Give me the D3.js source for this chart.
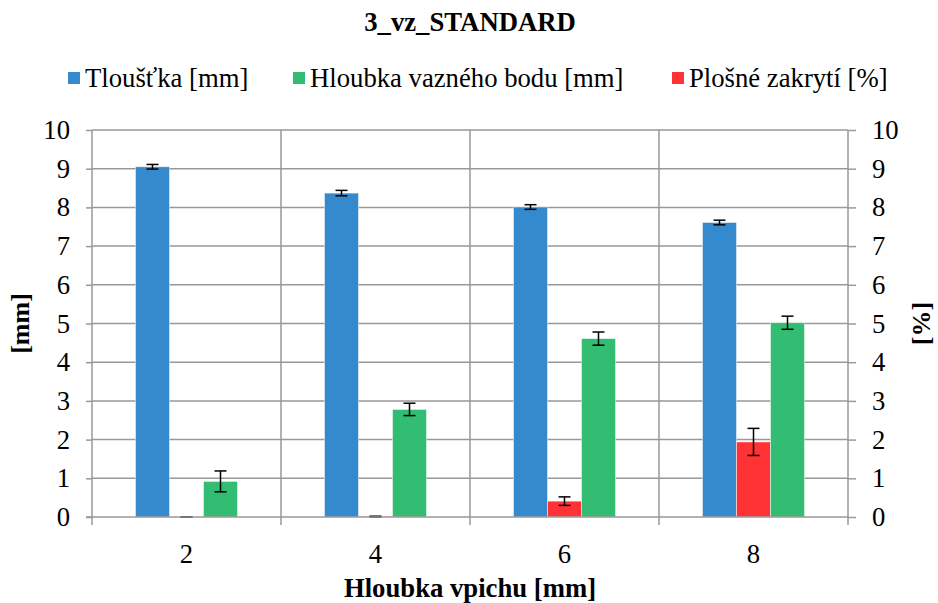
<!DOCTYPE html>
<html>
<head>
<meta charset="utf-8">
<script src="https://cdn.jsdelivr.net/npm/d3@7"></script>
<style>
  body { margin: 0; background: #fff; }
</style>
</head>
<body>
<script>
// data
var categories = ["2", "4", "6", "8"];
var seriesNames = ["Tloušťka [mm]", "Plošné zakrytí [%]", "Hloubka vazného bodu [mm]"];
var legendOrder = ["Tloušťka [mm]", "Hloubka vazného bodu [mm]", "Plošné zakrytí [%]"];
var tloustka = [9.05, 8.37, 8.01, 7.61];
var tloustkaErr = [0.06, 0.07, 0.06, 0.06];
var zakryti = [0.0, 0.01, 0.41, 1.94];
var zakrytiErr = [0.0, 0.01, 0.11, 0.35];
var hloubka = [0.92, 2.78, 4.61, 5.02];
var hloubkaErr = [0.27, 0.16, 0.17, 0.17];
var yTicks = [0, 1, 2, 3, 4, 5, 6, 7, 8, 9, 10];

var FONT = "'Liberation Serif', 'Times New Roman', Times, serif";
var FS = "26.7px";

var colors = {
  "Tloušťka [mm]": "#3589cd",
  "Hloubka vazného bodu [mm]": "#33bd73",
  "Plošné zakrytí [%]": "#ff3336"
};

var values = {
  "Tloušťka [mm]": tloustka,
  "Plošné zakrytí [%]": zakryti,
  "Hloubka vazného bodu [mm]": hloubka
};
var errors = {
  "Tloušťka [mm]": tloustkaErr,
  "Plošné zakrytí [%]": zakrytiErr,
  "Hloubka vazného bodu [mm]": hloubkaErr
};

var W = 938, H = 603;
var margin = {top: 130, right: 90, bottom: 86, left: 92},
    width = W - margin.left - margin.right,
    height = H - margin.top - margin.bottom;

var svg = d3.select("body").append("svg")
    .attr("width", W)
    .attr("height", H);

var g = svg.append("g")
    .attr("transform", "translate(" + margin.left + "," + margin.top + ")");

// scales
var x = d3.scaleBand()
    .domain(categories)
    .range([0, width]);

var inner = d3.scaleBand()
    .domain(seriesNames)
    .range([43.5, x.bandwidth() - 43.5]);

var yLeft = d3.scaleLinear().domain([0, 10]).range([height, 0]);
var yRight = d3.scaleLinear().domain([0, 10]).range([height, 0]);

function yFor(name) {
  return name === "Plošné zakrytí [%]" ? yRight : yLeft;
}

// horizontal gridlines
g.append("g").selectAll("line")
    .data(yTicks.slice(1))
    .enter().append("line")
    .attr("x1", 0).attr("x2", width)
    .attr("y1", function(d) { return yLeft(d); })
    .attr("y2", function(d) { return yLeft(d); })
    .attr("stroke", "#999").attr("stroke-width", 1.5);

// vertical category separators
g.append("g").selectAll("line")
    .data(categories.slice(1))
    .enter().append("line")
    .attr("x1", function(d) { return x(d); })
    .attr("x2", function(d) { return x(d); })
    .attr("y1", 0).attr("y2", height + 8)
    .attr("stroke", "#999").attr("stroke-width", 1.5);

// bars
var rows = [];
categories.forEach(function(c, i) {
  seriesNames.forEach(function(s) {
    rows.push({cat: c, series: s, value: values[s][i], err: errors[s][i]});
  });
});

g.append("g").selectAll("rect")
    .data(rows)
    .enter().append("rect")
    .attr("x", function(d) { return x(d.cat) + inner(d.series); })
    .attr("width", inner.bandwidth())
    .attr("y", function(d) { return yFor(d.series)(d.value); })
    .attr("height", function(d) { return height - yFor(d.series)(d.value); })
    .attr("fill", function(d) { return colors[d.series]; })
    .attr("stroke", "#fff").attr("stroke-width", 0.8).attr("stroke-opacity", 0.6);

// error bars
var eb = g.append("g").selectAll("g")
    .data(rows)
    .enter().append("g")
    .attr("stroke", "#000").attr("stroke-width", 1.5);

eb.append("line")
    .attr("x1", function(d) { return x(d.cat) + inner(d.series) + inner.bandwidth() / 2; })
    .attr("x2", function(d) { return x(d.cat) + inner(d.series) + inner.bandwidth() / 2; })
    .attr("y1", function(d) { return yFor(d.series)(d.value - d.err); })
    .attr("y2", function(d) { return yFor(d.series)(d.value + d.err); });

[-1, 1].forEach(function(sign) {
  eb.append("line")
      .attr("x1", function(d) { return x(d.cat) + inner(d.series) + inner.bandwidth() / 2 - 6; })
      .attr("x2", function(d) { return x(d.cat) + inner(d.series) + inner.bandwidth() / 2 + 6; })
      .attr("y1", function(d) { return yFor(d.series)(d.value + sign * d.err); })
      .attr("y2", function(d) { return yFor(d.series)(d.value + sign * d.err); });
});

// axes
var axisLeft = g.append("g")
    .call(d3.axisLeft(yLeft).tickValues(yTicks).tickSize(6).tickPadding(16));
var axisRight = g.append("g")
    .attr("transform", "translate(" + width + ",0)")
    .call(d3.axisRight(yRight).tickValues(yTicks).tickSize(8).tickPadding(16));
var axisBottom = g.append("g")
    .attr("transform", "translate(0," + height + ")")
    .call(d3.axisBottom(x).tickSize(0).tickPadding(27));

[axisLeft, axisRight, axisBottom].forEach(function(a) {
  a.attr("font-family", null).attr("font-size", null);
  a.select(".domain").attr("stroke", "#999").attr("stroke-width", 1.5);
  a.selectAll(".tick line").attr("stroke", "#999").attr("stroke-width", 1.5);
  a.selectAll(".tick text")
      .attr("fill", "#000")
      .style("font-family", FONT)
      .style("font-size", FS);
});
axisLeft.select(".domain").attr("d", "M0," + (height + 8) + "V0");
axisRight.select(".domain").attr("d", "M0," + (height + 8) + "V0");
axisBottom.select(".domain").attr("d", "M-6,0H" + width);

function label(sel) {
  return sel.style("font-family", FONT).style("font-size", FS);
}

// title
label(svg.append("text"))
    .attr("x", 470).attr("y", 31)
    .attr("text-anchor", "middle")
    .style("font-weight", "bold")
    .text("3_vz_STANDARD");

// axis titles
label(svg.append("text"))
    .attr("transform", "translate(29," + (margin.top + height / 2) + ") rotate(-90)")
    .attr("text-anchor", "middle")
    .style("font-weight", "bold")
    .style("font-size", "26px")
    .text("[mm]");
label(svg.append("text"))
    .attr("transform", "translate(930," + (margin.top + height / 2) + ") rotate(-90)")
    .attr("text-anchor", "middle")
    .style("font-weight", "bold")
    .style("font-size", "26px")
    .text("[%]");
label(svg.append("text"))
    .attr("x", 470).attr("y", 597)
    .attr("text-anchor", "middle")
    .style("font-weight", "bold")
    .text("Hloubka vpichu [mm]");

// legend
var legendX = [68, 293, 672];
var legend = svg.append("g").selectAll("g")
    .data(legendOrder)
    .enter().append("g")
    .attr("transform", function(d, i) { return "translate(" + legendX[i] + ",72)"; });
legend.append("rect")
    .attr("width", 12).attr("height", 12)
    .attr("fill", function(d) { return colors[d]; });
label(legend.append("text"))
    .attr("x", 17).attr("y", 15)
    .text(function(d) { return d; });
</script>
</body>
</html>
